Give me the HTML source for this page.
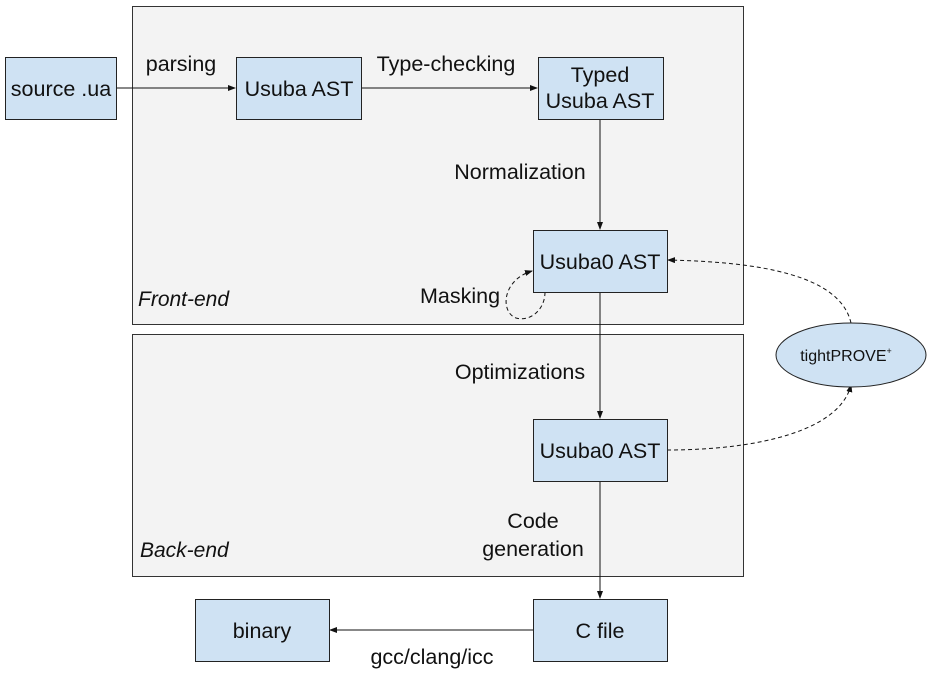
<!DOCTYPE html>
<html><head><meta charset="utf-8"><style>
html,body{margin:0;padding:0;background:#fff;}
svg{display:block;}
text{font-family:"Liberation Sans",sans-serif;fill:#111;}
</style></head><body>
<svg width="939" height="675" viewBox="0 0 939 675" xmlns="http://www.w3.org/2000/svg">
<defs>
<marker id="a" markerWidth="8" markerHeight="6" refX="7" refY="3" orient="auto" markerUnits="userSpaceOnUse">
<path d="M0,0 L8,3 L0,6 z" fill="#111"/></marker>
</defs>
<rect x="132.5" y="6.5" width="611" height="318" fill="#f3f3f3" stroke="#333" stroke-width="1"/>
<rect x="132.5" y="334.5" width="611" height="242" fill="#f3f3f3" stroke="#333" stroke-width="1"/>
<g stroke="#111" stroke-width="1" fill="none">
<line x1="116" y1="88" x2="235" y2="88" marker-end="url(#a)"/>
<line x1="361" y1="88" x2="537" y2="88" marker-end="url(#a)"/>
<line x1="600" y1="119" x2="600" y2="229" marker-end="url(#a)"/>
<line x1="600" y1="292" x2="600" y2="418" marker-end="url(#a)"/>
<line x1="600" y1="481" x2="600" y2="598" marker-end="url(#a)"/>
<line x1="533" y1="630" x2="330" y2="630" marker-end="url(#a)"/>
</g>
<g stroke="#111" stroke-width="1" fill="none" stroke-dasharray="4,3">
<path d="M545,292 C545,310 530,322 516,318 C500,312 502,280 532,271" marker-end="url(#a)"/>
<path d="M851,323 C840,275 760,262 668,260" marker-end="url(#a)"/>
<path d="M667,450 C760,450 840,430 851,385" marker-end="url(#a)"/>
</g>
<g fill="#cfe2f3" stroke="#222" stroke-width="1">
<rect x="5.5" y="57.5" width="111" height="62"/>
<rect x="236.5" y="57.5" width="125" height="62"/>
<rect x="538.5" y="57.5" width="125" height="62"/>
<rect x="533.5" y="230.5" width="134" height="62"/>
<rect x="533.5" y="419.5" width="134" height="62"/>
<rect x="533.5" y="599.5" width="134" height="62"/>
<rect x="195.5" y="599.5" width="134" height="62"/>
<ellipse cx="851" cy="355" rx="75" ry="32"/>
</g>
<g font-size="21.5" text-anchor="middle">
<text x="61" y="96">source .ua</text>
<text x="299" y="96">Usuba AST</text>
<text x="600" y="82">Typed</text>
<text x="600" y="108">Usuba AST</text>
<text x="600" y="269">Usuba0 AST</text>
<text x="600" y="458">Usuba0 AST</text>
<text x="600" y="638">C file</text>
<text x="262" y="638">binary</text>
<text x="181" y="71">parsing</text>
<text x="446" y="71">Type-checking</text>
<text x="520" y="179">Normalization</text>
<text x="460" y="303">Masking</text>
<text x="520" y="379">Optimizations</text>
<text x="533" y="528">Code</text>
<text x="533" y="556">generation</text>
<text x="432" y="664">gcc/clang/icc</text>
</g>
<g font-size="21" font-style="italic">
<text x="138" y="306">Front-end</text>
<text x="140" y="557">Back-end</text>
</g>
<text x="846" y="361" font-size="16" text-anchor="middle">tightPROVE<tspan font-size="9" dy="-7">+</tspan></text>
</svg>
</body></html>
